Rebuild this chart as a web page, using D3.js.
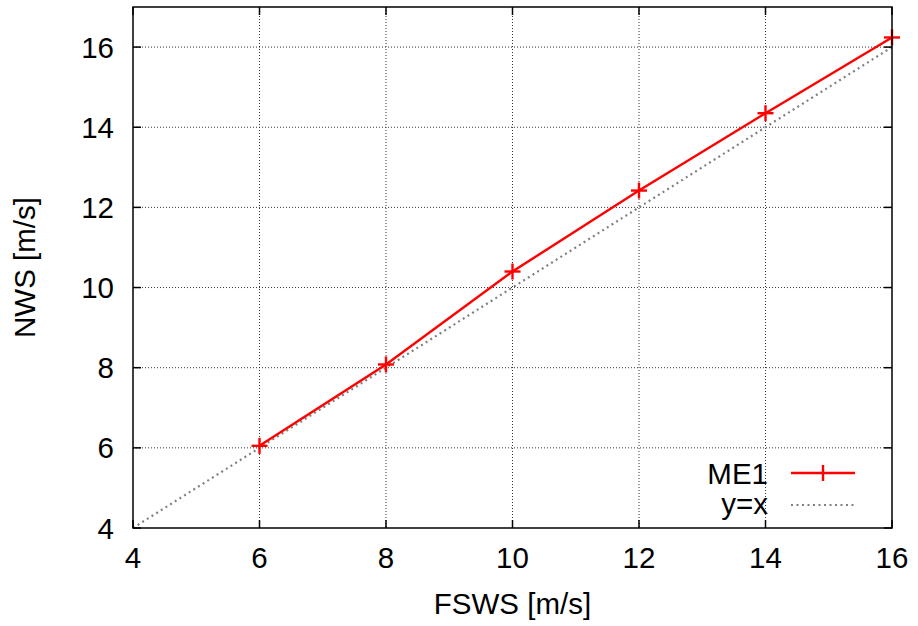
<!DOCTYPE html>
<html><head><meta charset="utf-8">
<script src="https://cdn.jsdelivr.net/npm/d3@7"></script>
<style>body{margin:0;background:#fff}svg{display:block}text{font-family:"Liberation Sans",Arial,sans-serif}</style>
</head><body>
<svg id="c" width="918" height="626"></svg>
<script>
const fsws = [6, 8, 10, 12, 14, 16];
const nws = [6.05, 8.08, 10.4, 12.42, 14.35, 16.24];
const xTicks = [4, 6, 8, 10, 12, 14, 16];
const yTicks = [4, 6, 8, 10, 12, 14, 16];
const refLine = [4, 17];

const svg = d3.select("#c");
const m = {l: 133, r: 892, t: 7, b: 528};
const x = d3.scaleLinear().domain([4, 16]).range([m.l, m.r]);
const y = d3.scaleLinear().domain([4, 17]).range([m.b, m.t]);
const fs = 29.5;

// grid
const grid = svg.append("g").attr("stroke", "#333").attr("stroke-width", 1).attr("stroke-dasharray", "1,2");
xTicks.slice(1, -1).forEach(v => grid.append("line").attr("x1", x(v)).attr("x2", x(v)).attr("y1", m.t).attr("y2", m.b));
yTicks.slice(1).forEach(v => grid.append("line").attr("x1", m.l).attr("x2", m.r).attr("y1", y(v)).attr("y2", y(v)));

// clip
svg.append("clipPath").attr("id", "clip").append("rect").attr("x", m.l).attr("y", m.t).attr("width", m.r - m.l).attr("height", m.b - m.t);

// y=x
svg.append("line").attr("clip-path", "url(#clip)")
  .attr("x1", x(refLine[0])).attr("y1", y(refLine[0]))
  .attr("x2", x(16)).attr("y2", y(16))
  .attr("stroke", "#808080").attr("stroke-width", 2.2).attr("stroke-dasharray", "2,3.5");

// ME1
const pts = fsws.map((v, i) => [v, nws[i]]);
svg.append("path").datum(pts)
  .attr("d", d3.line().x(d => x(d[0])).y(d => y(d[1])))
  .attr("fill", "none").attr("stroke", "#ff0000").attr("stroke-width", 2.4);
const mk = svg.append("g").attr("stroke", "#ff0000").attr("stroke-width", 2.4);
pts.forEach(d => {
  mk.append("line").attr("x1", x(d[0]) - 8).attr("x2", x(d[0]) + 8).attr("y1", y(d[1])).attr("y2", y(d[1]));
  mk.append("line").attr("x1", x(d[0])).attr("x2", x(d[0])).attr("y1", y(d[1]) - 8).attr("y2", y(d[1]) + 8);
});

// frame and ticks
const ax = svg.append("g").attr("stroke", "#000").attr("stroke-width", 1.5);
ax.append("rect").attr("x", m.l).attr("y", m.t).attr("width", m.r - m.l).attr("height", m.b - m.t).attr("fill", "none");
const tl = 8;
xTicks.forEach(v => {
  ax.append("line").attr("x1", x(v)).attr("x2", x(v)).attr("y1", m.b).attr("y2", m.b - tl);
  ax.append("line").attr("x1", x(v)).attr("x2", x(v)).attr("y1", m.t).attr("y2", m.t + tl);
});
yTicks.forEach(v => {
  ax.append("line").attr("x1", m.l).attr("x2", m.l + tl).attr("y1", y(v)).attr("y2", y(v));
  ax.append("line").attr("x1", m.r).attr("x2", m.r - tl).attr("y1", y(v)).attr("y2", y(v));
});

// tick labels
svg.append("g").selectAll("text").data(xTicks).join("text")
  .attr("x", d => x(d)).attr("y", 568).attr("text-anchor", "middle").attr("font-size", fs).text(d => d);
svg.append("g").selectAll("text").data(yTicks).join("text")
  .attr("x", 114).attr("y", d => y(d) + 10.5).attr("text-anchor", "end").attr("font-size", fs).text(d => d);

// axis titles
svg.append("text").attr("x", x(10)).attr("y", 614).attr("text-anchor", "middle").attr("font-size", fs).text("FSWS [m/s]");
svg.append("text").attr("transform", `translate(35,${(m.t + m.b) / 2}) rotate(-90)`).attr("text-anchor", "middle").attr("font-size", fs).text("NWS [m/s]");

// legend
const lg = svg.append("g");
lg.append("text").attr("x", 768).attr("y", 484).attr("text-anchor", "end").attr("font-size", fs).text("ME1");
lg.append("line").attr("x1", 791).attr("x2", 855).attr("y1", 473).attr("y2", 473).attr("stroke", "#ff0000").attr("stroke-width", 2.4);
lg.append("line").attr("x1", 823).attr("x2", 823).attr("y1", 465).attr("y2", 481).attr("stroke", "#ff0000").attr("stroke-width", 2.4);
lg.append("text").attr("x", 768).attr("y", 514).attr("text-anchor", "end").attr("font-size", fs).text("y=x");
lg.append("line").attr("x1", 791).attr("x2", 855).attr("y1", 505).attr("y2", 505).attr("stroke", "#808080").attr("stroke-width", 2.2).attr("stroke-dasharray", "2,3.5");
</script>
</body></html>
